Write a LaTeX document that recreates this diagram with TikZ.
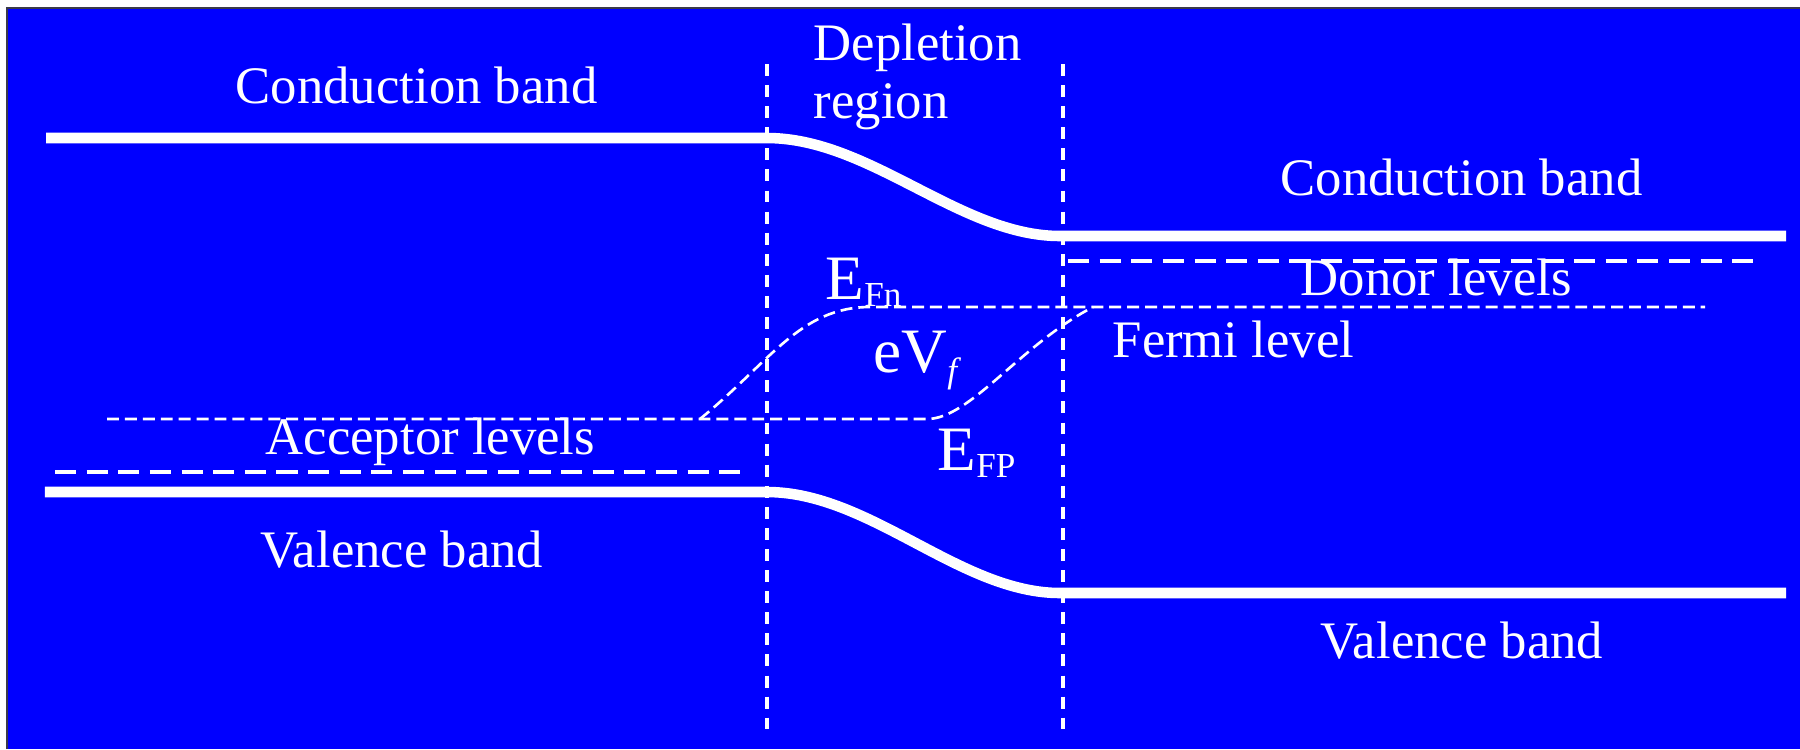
\documentclass[tikz,border=0pt]{standalone}
\usepackage{fontspec}
\setmainfont{Liberation Serif}
\usepackage{tikz}
\usepackage{xcolor}
\definecolor{Slide}{HTML}{0000FF}
\definecolor{Frame}{HTML}{3A3A4A}

\begin{document}
\begin{tikzpicture}[band/.style={white,line width=3pt,line cap=butt},
  level/.style={white,line width=1.4pt,dash pattern=on 6pt off 3pt},
  fermi/.style={white,line width=0.75pt,dash pattern=on 3.4pt off 1.7pt},
  edge/.style={white,line width=1.3pt,dash pattern=on 3.4pt off 2.6pt},
  lbl/.style={text=white,inner sep=0pt,anchor=base west,font=\fontsize{15}{16.5}\selectfont},
  sym/.style={text=white,inner sep=0pt,anchor=base west,font=\fontsize{18}{20}\selectfont}]
\useasboundingbox (0,0) rectangle (18,-7.49);
\fill[white] (0,0) rectangle (18,-7.49);
\fill[Slide] (0.07,-0.08) rectangle (18,-7.49);
\draw[Frame,line width=0.4pt] (0.07,-7.49) |- (18,-0.08);
\coordinate (jl) at (7.67,0);
\coordinate (jr) at (10.63,0);
\draw[edge] (7.67,-0.64) -- (7.67,-7.29);
\draw[edge] (10.63,-0.64) -- (10.63,-7.29);
\draw[band] (0.46,-1.38) -- (7.67,-1.38) .. controls (8.70,-1.38) and (9.60,-2.36) .. (10.60,-2.36) -- (17.86,-2.36);
\draw[band] (0.45,-4.92) -- (7.67,-4.92) .. controls (8.70,-4.92) and (9.60,-5.93) .. (10.60,-5.93) -- (17.86,-5.93);
\draw[level] (10.68,-2.61) -- (17.62,-2.61);
\draw[level] (0.55,-4.72) -- (7.45,-4.72);
\draw[fermi] (1.07,-4.19) -- (9.27,-4.19) .. controls (9.70,-4.19) and (10.20,-3.45) .. (10.93,-3.07);
\draw[fermi] (7.00,-4.19) .. controls (7.70,-3.62) and (8.00,-3.07) .. (8.70,-3.07) -- (17.05,-3.07);
\node[lbl] (cbl) at (2.35,-1.03) {Conduction band};
\node[lbl] (depl) at (8.13,-0.60) {Depletion};
\node[lbl] (reg) at (8.13,-1.18) {region};
\node[lbl] (cbr) at (12.80,-1.95) {Conduction band};
\node[lbl] (donor) at (13.00,-2.95) {Donor levels};
\node[lbl] (fermi) at (11.12,-3.57) {Fermi level};
\node[lbl] (acc) at (2.65,-4.54) {Acceptor levels};
\node[lbl] (vbl) at (2.60,-5.67) {Valence band};
\node[lbl] (vbr) at (13.20,-6.58) {Valence band};
\node[sym] (efn) at (8.25,-2.99) {E\raisebox{-2pt}{\fontsize{10}{11}\selectfont Fn}};
\node[sym] (evf) at (8.73,-3.72) {eV\raisebox{-3pt}{\fontsize{10}{11}\selectfont\itshape f}};
\node[sym] (efp) at (9.37,-4.70) {E\raisebox{-2pt}{\fontsize{10}{11}\selectfont FP}};
\end{tikzpicture}
\end{document}
